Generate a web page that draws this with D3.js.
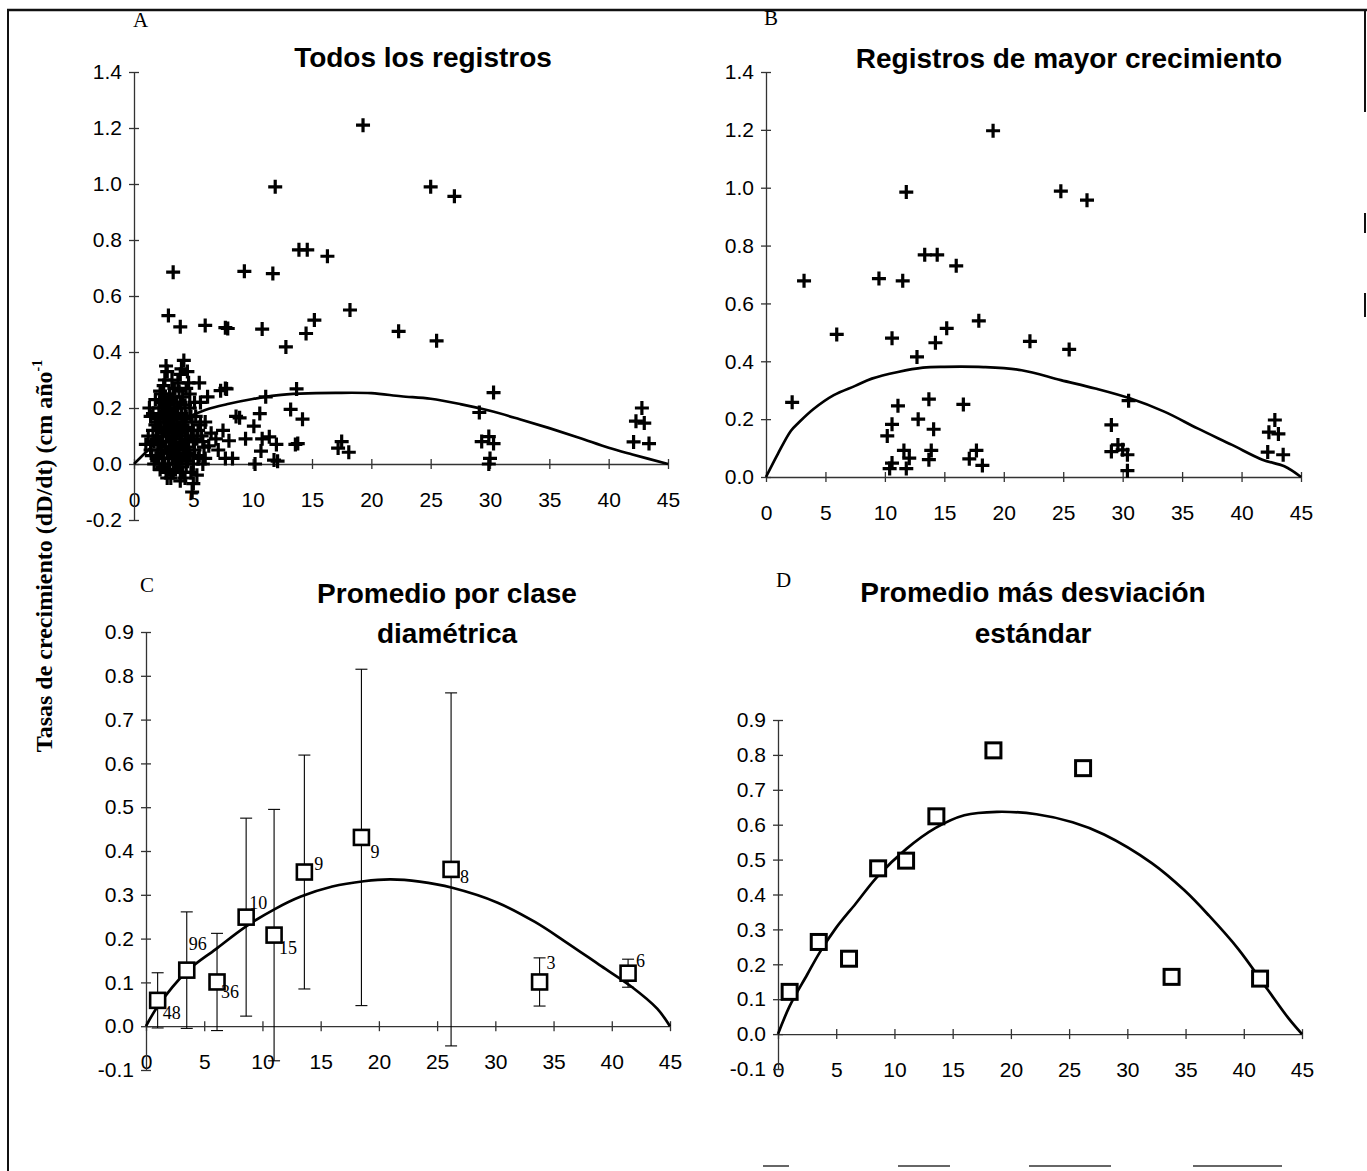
<!DOCTYPE html>
<html>
<head>
<meta charset="utf-8">
<script src="https://cdn.jsdelivr.net/npm/d3@7"></script>
<style>
body { margin: 0; background: #fff; }
</style>
</head>
<body>
<script>
// #region DATA
var xTicks = [0, 5, 10, 15, 20, 25, 30, 35, 40, 45];
var yTicksA = [-0.2, 0, 0.2, 0.4, 0.6, 0.8, 1.0, 1.2, 1.4];
var yTicksB = [0, 0.2, 0.4, 0.6, 0.8, 1.0, 1.2, 1.4];
var yTicksCD = [-0.1, 0, 0.1, 0.2, 0.3, 0.4, 0.5, 0.6, 0.7, 0.8, 0.9];

// A: todos los registros (diametro, tasa)
var todosRegistros = [
    [19.3, 1.21], [11.9, 0.99], [25.0, 0.99], [27.0, 0.956], [13.9, 0.765], [14.6, 0.765],
    [16.3, 0.742], [3.3, 0.685], [9.3, 0.688], [11.7, 0.68], [18.2, 0.55], [2.9, 0.53],
    [3.9, 0.49], [6.0, 0.495], [7.7, 0.487], [7.9, 0.484], [10.8, 0.482], [15.2, 0.514],
    [14.5, 0.466], [12.8, 0.418], [22.3, 0.474], [25.5, 0.44],
    [30.3, 0.255], [29.1, 0.184], [29.3, 0.08], [29.9, 0.098], [30.3, 0.073], [30.0, 0.02], [29.9, 0.0],
    [42.8, 0.2], [42.3, 0.153], [43.0, 0.146], [42.1, 0.079], [43.4, 0.073],
    [17.5, 0.08], [17.2, 0.057], [18.1, 0.042],
    [13.7, 0.268], [13.2, 0.195], [14.2, 0.16], [13.8, 0.073], [13.6, 0.07],
    [11.1, 0.24], [10.6, 0.18], [8.9, 0.165], [10.1, 0.135], [11.4, 0.097], [12.0, 0.07],
    [10.7, 0.046], [10.2, 0.0], [11.8, 0.014], [12.1, 0.01], [9.4, 0.09], [10.8, 0.09],
    [7.8, 0.268], [7.3, 0.262], [8.0, 0.083], [7.7, 0.02], [8.3, 0.02], [8.6, 0.17],
    [6.9, 0.09], [7.1, 0.05], [7.5, 0.12],
    [1.0, 0.07], [1.3, 0.2], [1.4, 0.17], [1.6, 0.12], [1.8, 0.23], [1.5, 0.03], [1.9, 0.09],
    [2.0, 0.15], [1.7, 0.0], [2.0, 0.05],
    [2.2, 0.26], [2.4, 0.18], [2.5, 0.28], [2.6, 0.12], [2.7, 0.35], [2.8, 0.33], [2.3, 0.08],
    [2.5, 0.02], [2.7, -0.03], [2.9, 0.22], [2.2, 0.13], [2.6, 0.06], [2.8, 0.15], [3.0, 0.25],
    [2.4, -0.01], [2.9, 0.1], [3.0, 0.04], [2.1, 0.2], [2.6, 0.24], [2.8, 0.19],
    [3.1, -0.05], [3.2, 0.3], [3.3, 0.12], [3.4, 0.2], [3.5, 0.07], [3.6, 0.16], [3.7, 0.01],
    [3.8, 0.26], [3.2, 0.09], [3.4, 0.03], [3.6, 0.22], [3.9, 0.11], [3.3, 0.17], [3.5, -0.02],
    [3.8, 0.05], [3.1, 0.14], [3.7, 0.29], [4.0, 0.18],
    [4.2, 0.37], [4.0, 0.34], [4.5, 0.33], [4.6, 0.29], [4.3, 0.13], [4.4, 0.06], [4.1, 0.24],
    [4.7, 0.2], [4.8, 0.1], [4.9, -0.1], [4.5, 0.01], [4.2, 0.16], [4.6, 0.04], [4.9, 0.15], [5.0, 0.08],
    [5.3, -0.04], [5.5, 0.29], [5.5, 0.03], [5.6, 0.22], [5.7, 0.1], [5.2, 0.17], [5.4, 0.12],
    [5.9, 0.06], [6.2, 0.24], [6.3, 0.065], [6.0, 0.15], [5.8, 0.0], [6.5, 0.11], [7.7, 0.27],
    [2.0, 0.1], [2.1, 0.02], [2.2, -0.02], [2.3, 0.22], [2.4, 0.1], [2.5, 0.15], [2.5, 0.2],
    [2.6, 0.0], [2.6, 0.17], [2.7, 0.08], [2.7, 0.13], [2.7, 0.21], [2.8, 0.04], [2.8, -0.05],
    [2.9, 0.0], [2.9, 0.17], [3.0, 0.08], [3.0, 0.13], [3.0, 0.19], [3.0, -0.02], [3.1, 0.06],
    [3.1, 0.23], [3.2, 0.02], [3.2, 0.18], [3.3, 0.06], [3.3, -0.03], [3.3, 0.24], [3.4, 0.1],
    [3.4, 0.14], [3.5, 0.18], [3.5, 0.03], [3.6, 0.0], [3.6, 0.11], [3.7, 0.06], [3.7, 0.2],
    [3.8, 0.13], [3.8, -0.01], [3.9, 0.07], [3.9, 0.22], [4.0, 0.02], [4.0, 0.1], [4.1, 0.14],
    [4.1, -0.03], [4.2, 0.05], [4.3, 0.21], [4.3, 0.09], [4.4, 0.0], [4.4, 0.17], [4.5, 0.12],
    [4.6, 0.08], [4.7, 0.03], [4.7, 0.25], [4.8, 0.17], [4.8, -0.03], [5.0, 0.0], [5.0, 0.12],
    [5.1, 0.22], [5.1, 0.05], [5.3, 0.09], [5.4, 0.02], [5.6, 0.14], [5.8, 0.08], [6.0, 0.02],
    [1.2, 0.1], [1.4, 0.05], [1.6, 0.18], [1.7, 0.08], [1.8, 0.14], [1.9, 0.02], [2.1, 0.07],
    [2.3, 0.04], [2.4, 0.25], [2.2, 0.17], [3.9, 0.32], [3.4, 0.27], [2.6, 0.3], [4.4, 0.27],
    [5.0, -0.07], [3.9, -0.06], [4.3, -0.05]
];
var ajusteTodos = [
    [0, 0], [1.2, 0.05], [3, 0.12], [4.5, 0.165], [6, 0.193], [8, 0.215], [10, 0.232], [12, 0.245],
    [14, 0.251], [17, 0.254], [20, 0.253], [22.5, 0.242], [25, 0.233], [27.5, 0.214], [30, 0.19],
    [32.5, 0.16], [35, 0.128], [37.5, 0.094], [40, 0.058], [42, 0.034], [45, 0]
];

// B: registros de mayor crecimiento
var mayorCrecimiento = [
    [19.1, 1.197], [11.8, 0.985], [24.8, 0.988], [27.0, 0.957], [13.35, 0.768], [14.4, 0.768],
    [16.0, 0.73], [3.2, 0.678], [9.5, 0.686], [11.5, 0.678], [17.9, 0.54], [5.95, 0.493],
    [10.6, 0.48], [15.2, 0.514], [14.25, 0.464], [12.7, 0.415], [22.2, 0.469], [25.5, 0.441],
    [2.2, 0.258], [11.1, 0.246], [13.7, 0.269], [16.6, 0.251], [10.6, 0.182], [10.2, 0.142],
    [12.8, 0.2], [14.1, 0.165], [11.6, 0.092], [12.05, 0.065], [13.9, 0.092], [13.7, 0.06],
    [10.6, 0.048], [10.4, 0.029], [11.8, 0.029], [17.1, 0.063], [17.7, 0.092], [18.2, 0.04],
    [30.5, 0.264], [29.05, 0.18], [29.05, 0.088], [29.6, 0.111], [30.0, 0.094], [30.4, 0.077],
    [30.4, 0.022], [42.8, 0.197], [42.3, 0.155], [43.1, 0.149], [42.2, 0.086], [43.5, 0.077]
];
var ajusteMayor = [
    [0, 0], [1, 0.08], [2.1, 0.16], [2.8, 0.19], [4, 0.235], [5.7, 0.283], [7.5, 0.315], [8.9, 0.34],
    [11.1, 0.363], [13.2, 0.378], [15, 0.381], [18.3, 0.38], [21.5, 0.369], [24.8, 0.335],
    [27.7, 0.306], [30.6, 0.272], [33.5, 0.226], [36.3, 0.168], [39.2, 0.111], [41.75, 0.06],
    [43.6, 0.037], [45, 0]
];

// C y D: clases diametricas
var claseX = [1.0, 3.5, 6.1, 8.6, 11.0, 13.6, 18.5, 26.2, 33.8, 41.4];
var clasePromedio = [0.059, 0.128, 0.101, 0.249, 0.208, 0.352, 0.431, 0.358, 0.101, 0.121];
var claseDesv = [0.063, 0.133, 0.111, 0.226, 0.287, 0.267, 0.384, 0.403, 0.055, 0.032];
var claseN = [48, 96, 36, 10, 15, 9, 9, 8, 3, 6];
var promedioMasDesv = [0.121, 0.264, 0.216, 0.475, 0.497, 0.624, 0.813, 0.762, 0.164, 0.159];

var ajustePromedio = [
    [0, 0], [1, 0.045], [3.5, 0.125], [6, 0.176], [8.6, 0.228], [11.1, 0.268], [13.3, 0.296],
    [16, 0.319], [18.7, 0.331], [21, 0.335], [23.5, 0.33], [26.3, 0.316], [30.2, 0.282], [33.4, 0.238],
    [35.9, 0.195], [39.1, 0.137], [41.7, 0.09], [43.9, 0.04], [45, 0]
];
var ajusteDesv = [
    [0, 0], [1, 0.08], [2.5, 0.17], [3.6, 0.235], [5, 0.305], [6.7, 0.375], [8.5, 0.45],
    [11, 0.53], [13.5, 0.59], [16, 0.627], [18.8, 0.637], [22.2, 0.63], [25.3, 0.607],
    [28, 0.572], [32.1, 0.49], [34.9, 0.412], [37, 0.34], [39.5, 0.245], [42, 0.13],
    [43.85, 0.045], [45, 0]
];
// #endregion

// label placement for n (dx, dy from square centre)
var nOffsets = [[5, 19], [2, -20], [4, 16], [3, -8], [5, 19], [10, -2], [9, 21], [9, 14], [7, -13], [8, -6]];

var W = 1367, H = 1171;
var sans = "'Liberation Sans', Arial, sans-serif";
var serif = "'Liberation Serif', 'Times New Roman', serif";

var svg = d3.select("body")
    .append("svg")
    .attr("width", W)
    .attr("height", H);

svg.append("rect")
    .attr("width", W)
    .attr("height", H)
    .attr("fill", "#fff");

// #region FRAME
var frame = svg.append("g")
    .attr("stroke", "#111")
    .attr("fill", "none");

frame.append("line").attr("x1", 7).attr("y1", 10).attr("x2", W).attr("y2", 10).attr("stroke-width", 2.5);
frame.append("line").attr("x1", 8).attr("y1", 9).attr("x2", 8).attr("y2", H).attr("stroke-width", 2);
[[9, 112], [213, 233], [293, 317]].forEach(function(s) {
    frame.append("line").attr("x1", 1365).attr("x2", 1365).attr("y1", s[0]).attr("y2", s[1]).attr("stroke-width", 2);
});
[[763, 789], [898, 950], [1029, 1111], [1193, 1282]].forEach(function(s) {
    frame.append("line").attr("x1", s[0]).attr("x2", s[1]).attr("y1", 1166).attr("y2", 1166)
        .attr("stroke", "#666").attr("stroke-width", 2);
});
// #endregion

// #region PANELS
var panels = [
    {letter: "A", lx: 133, ly: 27, title: ["Todos los registros"], tx: 423, ty: [67],
     xr: [134, 668], yd: [-0.2, 1.4], yr: [520, 72], yTicks: yTicksA},
    {letter: "B", lx: 764, ly: 25, title: ["Registros de mayor crecimiento"], tx: 1069, ty: [68],
     xr: [766, 1301], yd: [0, 1.4], yr: [477, 72], yTicks: yTicksB},
    {letter: "C", lx: 140, ly: 592, title: ["Promedio por clase", "diamétrica"], tx: 447, ty: [603, 643],
     xr: [146, 670], yd: [-0.1, 0.9], yr: [1070, 632], yTicks: yTicksCD},
    {letter: "D", lx: 776, ly: 587, title: ["Promedio más desviación", "estándar"], tx: 1033, ty: [602, 643],
     xr: [778, 1302], yd: [-0.1, 0.9], yr: [1069, 720], yTicks: yTicksCD}
];

panels.forEach(function(p) {
    p.g = svg.append("g").attr("id", "panel-" + p.letter);
    p.x = d3.scaleLinear().domain([0, 45]).range(p.xr);
    p.y = d3.scaleLinear().domain(p.yd).range(p.yr);

    p.g.append("text")
        .text(p.letter)
        .attr("x", p.lx)
        .attr("y", p.ly)
        .style("font-family", serif)
        .style("font-size", "21px");

    p.title.forEach(function(t, i) {
        p.g.append("text")
            .text(t)
            .attr("x", p.tx)
            .attr("y", p.ty[i])
            .attr("text-anchor", "middle")
            .style("font-family", sans)
            .style("font-weight", "bold")
            .style("font-size", "28px");
    });

    var xa = p.g.append("g")
        .attr("transform", "translate(0," + p.y(0) + ")")
        .call(d3.axisBottom(p.x).tickValues(xTicks).tickSizeInner(5).tickSizeOuter(0)
            .tickPadding(23).tickFormat(d3.format("d")));
    xa.selectAll(".tick line").attr("y1", -5);

    var ya = p.g.append("g")
        .attr("transform", "translate(" + p.x(0) + ",0)")
        .call(d3.axisLeft(p.y).tickValues(p.yTicks).tickSizeInner(5).tickSizeOuter(0)
            .tickPadding(7).tickFormat(d => d.toFixed(1)));
    ya.selectAll(".tick line").attr("x1", 5);

    [xa, ya].forEach(function(a) {
        a.select(".domain").attr("stroke", "#333").attr("stroke-width", 1.3);
        a.selectAll(".tick line").attr("stroke", "#333").attr("stroke-width", 1.3);
        a.selectAll("text")
            .attr("fill", "#000")
            .style("font-family", sans)
            .style("font-size", "21px");
    });
});
// #endregion

var pA = panels[0], pB = panels[1], pC = panels[2], pD = panels[3];

function fitLine(p, pts) {
    var line = d3.line()
        .x(d => p.x(d[0]))
        .y(d => p.y(d[1]))
        .curve(d3.curveCatmullRom);
    p.g.append("path")
        .datum(pts)
        .attr("d", line)
        .attr("fill", "none")
        .attr("stroke", "#000")
        .attr("stroke-width", 2.7)
        .attr("stroke-linejoin", "round");
}

function plusMarks(p, pts) {
    p.g.append("g")
        .selectAll("path")
        .data(pts)
        .enter()
        .append("path")
            .attr("d", "M-7,0H7M0,-7V7")
            .attr("transform", d => "translate(" + p.x(d[0]) + "," + p.y(d[1]) + ")")
            .attr("stroke", "#000")
            .attr("stroke-width", 3.2)
            .attr("fill", "none");
}

function squareMarks(p, ys, size, sw) {
    p.g.append("g")
        .selectAll("rect")
        .data(claseX)
        .enter()
        .append("rect")
            .attr("x", (d, i) => p.x(d) - size / 2)
            .attr("y", (d, i) => p.y(ys[i]) - size / 2)
            .attr("width", size)
            .attr("height", size)
            .attr("fill", "#fff")
            .attr("stroke", "#000")
            .attr("stroke-width", sw);
}

// A
plusMarks(pA, todosRegistros);
fitLine(pA, ajusteTodos);

// B
plusMarks(pB, mayorCrecimiento);
fitLine(pB, ajusteMayor);

// C: error bars, line, squares, n labels
var bars = pC.g.append("g")
    .attr("stroke", "#000")
    .attr("stroke-width", 1.1);
claseX.forEach(function(cx, i) {
    var px = pC.x(cx);
    var lo = pC.y(clasePromedio[i] - claseDesv[i]);
    var hi = pC.y(clasePromedio[i] + claseDesv[i]);
    bars.append("line").attr("x1", px).attr("x2", px).attr("y1", lo).attr("y2", hi);
    bars.append("line").attr("x1", px - 6).attr("x2", px + 6).attr("y1", lo).attr("y2", lo);
    bars.append("line").attr("x1", px - 6).attr("x2", px + 6).attr("y1", hi).attr("y2", hi);
});
fitLine(pC, ajustePromedio);
squareMarks(pC, clasePromedio, 15, 2.6);

pC.g.append("g")
    .selectAll("text")
    .data(claseN)
    .enter()
    .append("text")
        .text(d => d)
        .attr("x", (d, i) => pC.x(claseX[i]) + nOffsets[i][0])
        .attr("y", (d, i) => pC.y(clasePromedio[i]) + nOffsets[i][1])
        .style("font-family", serif)
        .style("font-size", "18px");

// D
fitLine(pD, ajusteDesv);
squareMarks(pD, promedioMasDesv, 15, 3);

// y axis title
var yTitle = svg.append("text")
    .attr("transform", "translate(52,556) rotate(-90)")
    .attr("text-anchor", "middle")
    .style("font-family", serif)
    .style("font-weight", "bold")
    .style("font-size", "24px");
yTitle.append("tspan").text("Tasas de crecimiento (dD/dt) (cm año");
yTitle.append("tspan").text("-1").attr("dy", -10).style("font-size", "14px");
</script>
</body>
</html>
